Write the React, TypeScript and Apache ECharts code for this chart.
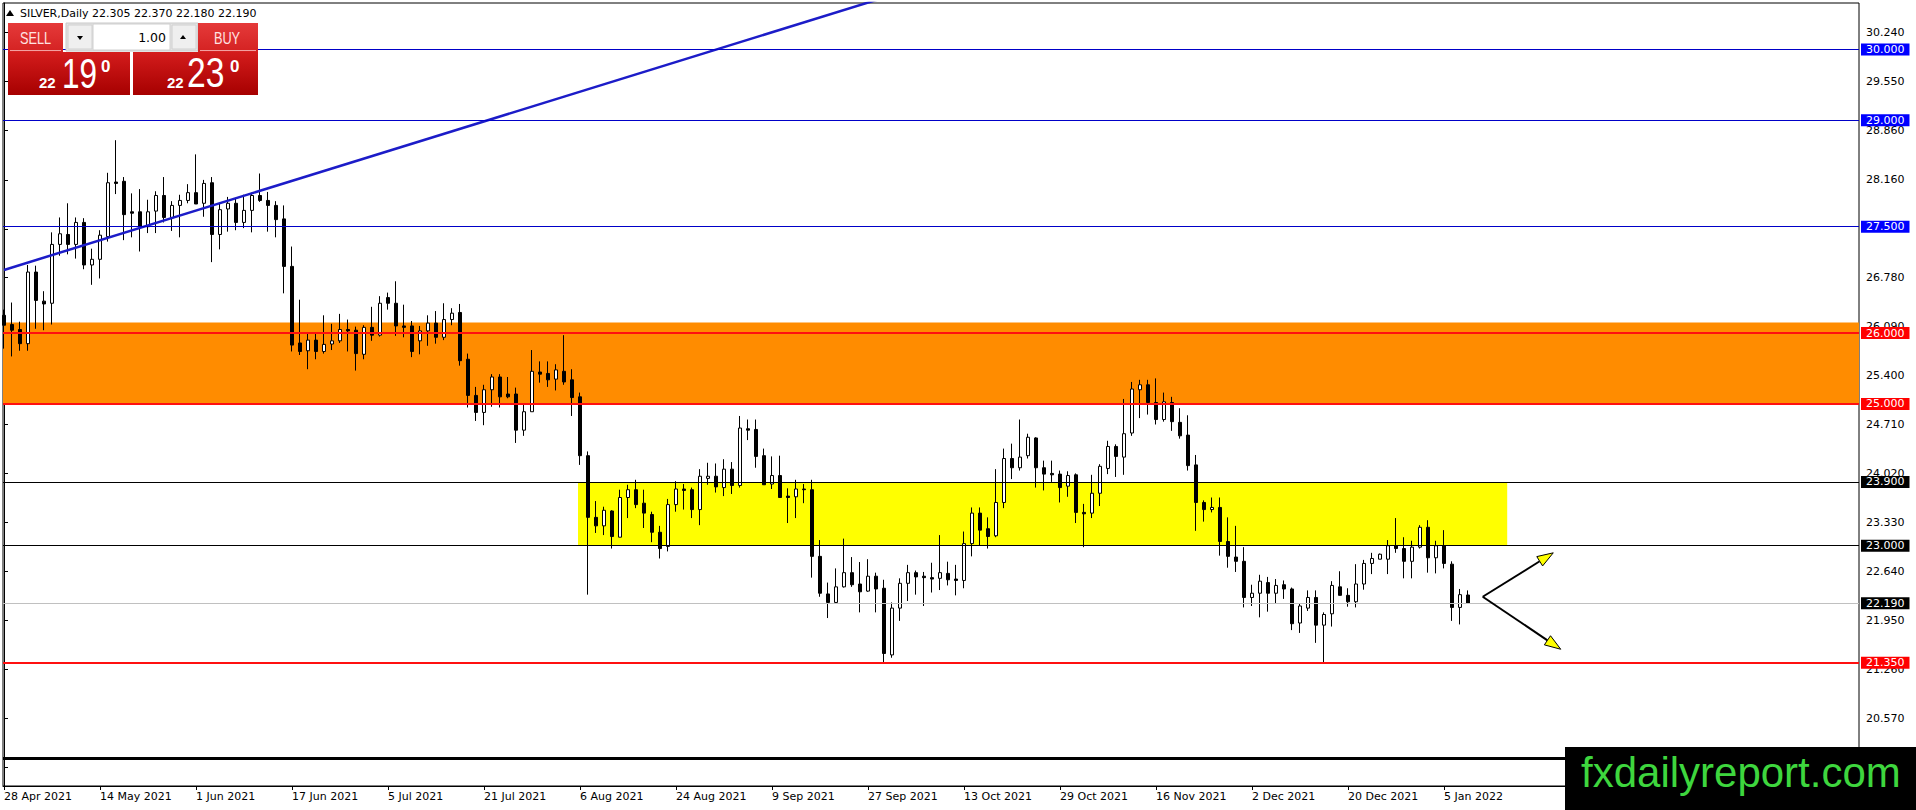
import React, { useEffect, useRef } from 'react';
import * as echarts from 'echarts';

// ---- Daily candles, bar index 0 = 28 Apr 2021 ----
const opens = [
  26.25, 26.12, 26.05, 25.85, 26.86, 26.45, 26.42, 27.25, 27.39, 27.25,
  27.56, 26.96, 27.04, 27.36, 28.13, 28.14, 27.71, 27.71, 27.50, 27.72,
  27.94, 27.63, 27.80, 27.87, 27.98, 27.83, 28.12, 27.39, 27.75, 27.83,
  27.56, 27.73, 27.94, 27.87, 27.80, 27.61, 26.94, 25.86, 25.75, 25.90,
  25.74, 25.845, 25.89, 26.05, 26.04, 25.70, 26.08, 25.97, 26.50, 26.42,
  26.10, 26.10, 25.89, 26.03, 26.14, 25.94, 26.19, 26.29, 25.63, 25.12,
  24.88, 25.20, 25.38, 25.14, 25.14, 24.63, 24.89, 25.45, 25.43, 25.35,
  25.46, 25.34, 25.10, 24.27, 23.40, 23.28, 23.49, 23.12, 23.68, 23.79,
  23.60, 23.44, 23.19, 22.99, 23.58, 23.80, 23.79, 23.51, 23.95, 23.98,
  23.82, 24.08, 23.85, 24.65, 24.64, 24.27, 23.87, 23.99, 23.70, 23.69,
  23.80, 23.79, 22.85, 22.32, 22.20, 22.42, 22.62, 22.46, 22.36, 22.57,
  22.40, 21.46, 22.12, 22.47, 22.62, 22.57, 22.55, 22.54, 22.61, 22.53,
  22.51, 23.03, 23.46, 23.24, 23.14, 23.61, 24.23, 24.10, 24.27, 24.52,
  24.10, 24.02, 24.01, 23.84, 24.00, 23.47, 23.46, 23.74, 24.09, 24.40,
  24.25, 24.59, 25.20, 25.27, 25.02, 24.78, 25.02, 24.74, 24.56, 24.14,
  23.61, 23.51, 23.54, 23.06, 22.84, 22.78, 22.27, 22.33, 22.48, 22.33,
  22.45, 22.39, 21.91, 22.12, 22.27, 21.88, 22.04, 22.42, 22.30, 22.21,
  22.46, 22.75, 22.81, 22.81, 23.00, 22.96, 22.78, 22.98, 23.26, 22.83,
  23.00, 22.74, 22.13, 22.305,
];
const closes = [
  26.11, 26.04, 25.85, 26.86, 26.46, 26.41, 27.25, 27.40, 27.25, 27.56,
  26.96, 27.04, 27.38, 28.12, 28.11, 27.67, 27.69, 27.50, 27.71, 27.94,
  27.63, 27.80, 27.87, 27.98, 27.82, 28.11, 27.39, 27.74, 27.83, 27.56,
  27.73, 27.94, 27.87, 27.80, 27.60, 26.94, 25.83, 25.74, 25.90, 25.74,
  25.84, 25.89, 26.05, 26.03, 25.71, 26.08, 25.97, 26.42, 26.42, 26.10,
  26.08, 25.74, 26.03, 26.14, 25.94, 26.19, 26.28, 25.61, 25.12, 24.88,
  25.20, 25.38, 25.10, 25.10, 24.63, 24.89, 25.46, 25.42, 25.34, 25.48,
  25.31, 25.09, 24.27, 23.40, 23.28, 23.50, 23.13, 23.68, 23.79, 23.58,
  23.46, 23.19, 22.96, 23.58, 23.80, 23.78, 23.51, 23.98, 23.98, 23.83,
  24.08, 23.85, 24.66, 24.63, 24.26, 23.86, 23.99, 23.68, 23.68, 23.80,
  23.79, 22.85, 22.33, 22.20, 22.42, 22.62, 22.45, 22.35, 22.57, 22.39,
  21.48, 22.12, 22.47, 22.62, 22.56, 22.55, 22.53, 22.62, 22.52, 22.51,
  23.03, 23.46, 23.22, 23.13, 23.61, 24.23, 24.10, 24.25, 24.53, 24.10,
  24.01, 24.00, 23.82, 23.99, 23.47, 23.45, 23.74, 24.12, 24.40, 24.26,
  24.58, 25.21, 25.27, 25.02, 24.78, 25.03, 24.75, 24.55, 24.13, 23.61,
  23.51, 23.54, 23.06, 22.85, 22.78, 22.27, 22.33, 22.50, 22.33, 22.44,
  22.39, 21.90, 22.15, 22.27, 21.88, 22.03, 22.44, 22.30, 22.21, 22.46,
  22.75, 22.82, 22.88, 23.00, 22.96, 22.78, 22.98, 23.26, 22.83, 23.00,
  22.75, 22.13, 22.31, 22.19,
];
const lows = [
  25.78, 25.67, 25.75, 25.75, 26.06, 26.04, 26.12, 27.09, 27.11, 27.05,
  26.90, 26.68, 26.77, 27.29, 27.96, 27.31, 27.35, 27.15, 27.41, 27.41,
  27.56, 27.44, 27.35, 27.83, 27.82, 27.64, 27.00, 27.18, 27.43, 27.45,
  27.48, 27.42, 27.85, 27.43, 27.35, 26.56, 25.74, 25.69, 25.49, 25.63,
  25.71, 25.76, 25.86, 25.74, 25.47, 25.63, 25.89, 25.95, 26.33, 25.96,
  25.94, 25.66, 25.70, 25.82, 25.85, 25.90, 26.11, 25.54, 24.95, 24.76,
  24.70, 24.96, 24.95, 25.08, 24.45, 24.55, 24.89, 25.30, 25.24, 25.19,
  25.27, 24.83, 24.14, 22.31, 23.18, 23.15, 22.96, 23.12, 23.39, 23.53,
  23.25, 23.05, 22.82, 22.92, 23.48, 23.51, 23.39, 23.29, 23.86, 23.75,
  23.70, 23.73, 23.82, 24.49, 24.10, 23.86, 23.80, 23.68, 23.32, 23.39,
  23.60, 22.55, 22.28, 21.98, 22.19, 22.41, 22.42, 22.06, 22.35, 22.06,
  21.36, 21.42, 21.94, 22.22, 22.31, 22.15, 22.34, 22.375, 22.44, 22.30,
  22.40, 22.85, 23.01, 22.96, 23.12, 23.53, 23.94, 24.06, 24.23, 23.82,
  23.78, 23.90, 23.61, 23.69, 23.32, 22.98, 23.39, 23.56, 24.01, 23.97,
  24.00, 24.55, 24.80, 24.85, 24.71, 24.75, 24.62, 24.51, 24.06, 23.21,
  23.34, 23.47, 22.86, 22.69, 22.63, 22.13, 22.15, 21.99, 22.07, 22.18,
  22.25, 21.81, 21.77, 22.08, 21.63, 21.35, 21.86, 22.30, 22.14, 22.13,
  22.38, 22.60, 22.81, 22.60, 22.90, 22.54, 22.54, 22.96, 22.62, 22.61,
  22.68, 21.94, 21.89, 22.18,
];
const highs = [
  26.33, 26.43, 26.16, 26.96, 26.95, 26.59, 27.42, 27.63, 27.83, 27.63,
  27.62, 27.19, 27.45, 28.26, 28.72, 28.20, 27.97, 28.03, 27.88, 28.00,
  28.20, 27.86, 27.95, 28.10, 28.52, 28.16, 28.20, 27.82, 27.92, 27.90,
  27.95, 27.98, 28.25, 27.99, 27.86, 27.80, 27.22, 26.47, 26.00, 25.99,
  26.25, 26.13, 26.27, 26.19, 26.09, 26.11, 26.37, 26.52, 26.57, 26.73,
  26.40, 26.17, 26.10, 26.25, 26.31, 26.42, 26.35, 26.41, 25.71, 25.24,
  25.27, 25.42, 25.42, 25.38, 25.23, 24.99, 25.76, 25.60, 25.60, 25.56,
  25.97, 25.49, 25.16, 24.33, 23.63, 23.55, 23.50, 23.79, 23.86, 23.93,
  23.79, 23.48, 23.28, 23.66, 23.91, 23.87, 23.82, 24.08, 24.17, 24.16,
  24.22, 24.18, 24.83, 24.78, 24.78, 24.37, 24.26, 24.27, 23.81, 23.93,
  23.87, 23.93, 23.08, 22.48, 22.68, 23.10, 22.84, 22.77, 22.81, 22.62,
  22.52, 22.20, 22.54, 22.73, 22.65, 22.63, 22.76, 23.15, 22.775, 22.73,
  23.20, 23.54, 23.54, 23.40, 24.08, 24.37, 24.44, 24.78, 24.58, 24.53,
  24.20, 24.20, 24.06, 24.05, 24.02, 23.59, 24.00, 24.15, 24.48, 24.43,
  25.07, 25.31, 25.34, 25.34, 25.36, 25.16, 25.10, 24.94, 24.84, 24.28,
  23.64, 23.68, 23.68, 23.40, 23.28, 22.98, 22.45, 22.59, 22.56, 22.53,
  22.51, 22.41, 22.18, 22.37, 22.37, 22.06, 22.50, 22.64, 22.40, 22.74,
  22.80, 22.90, 22.89, 23.08, 23.39, 23.12, 23.07, 23.29, 23.36, 23.07,
  23.22, 22.78, 22.39, 22.37,
];

// ---- Axis ticks ----
const xTickBars = [0, 12, 24, 36, 48, 60, 72, 84, 96, 108, 120, 132, 144, 156, 168, 180];
const xTickLabels = [
  '28 Apr 2021', '14 May 2021', '1 Jun 2021', '17 Jun 2021', '5 Jul 2021', '21 Jul 2021',
  '6 Aug 2021', '24 Aug 2021', '9 Sep 2021', '27 Sep 2021', '13 Oct 2021', '29 Oct 2021',
  '16 Nov 2021', '2 Dec 2021', '20 Dec 2021', '5 Jan 2022',
];
const yTickValues = [
  30.24, 29.55, 28.86, 28.16, 27.47, 26.78, 26.09, 25.4, 24.71, 24.02,
  23.33, 22.64, 21.95, 21.26, 20.57, 19.88,
];

// ---- Drawn levels / objects (price space) ----
const blueLevels = [30.0, 29.0, 27.5];
const redLevels = [26.0, 25.0, 21.35];
const blackLevels = [23.9, 23.0];
const currentPrice = 22.19;
const baseLevel = 20.0;
const orangeZone = [25.0, 26.15];
const yellowZone = [23.0, 23.9];
const yellowZoneBars = [71.75, 187.9];
const trendline = [[0, 26.89], [120, 31.08]];
const arrowApex = [184.84, 22.28];
const arrowUpTip = [193.66, 22.9];
const arrowDownTip = [194.59, 21.54];
const bidPrice = 22.19;
const askPrice = 22.23;

const X_MIN = -0.125;
const X_MAX = 231.875;
const Y_MIN = 19.611;
const Y_MAX = 30.655;

export default function App() {
  const ref = useRef<HTMLDivElement>(null);

  useEffect(() => {
    const chart = echarts.init(ref.current as HTMLDivElement, null, { renderer: 'svg' });
    const candles = opens.map((o, i) => [i, o, closes[i], lows[i], highs[i]]);
    const last = candles.length - 1;

    const tag = (bg: string) => ({
      show: true,
      position: 'end',
      distance: 2,
      color: '#ffffff',
      backgroundColor: bg,
      padding: [1, 5, 0, 5],
      fontSize: 11,
      lineHeight: 11,
      fontFamily: 'DejaVu Sans',
      formatter: (p: any) => Number(p.value).toFixed(3),
    });
    const lvl = (v: number, color: string, width: number, bg: string | null) => ({
      yAxis: v,
      lineStyle: { color, width, type: 'solid' },
      label: bg ? tag(bg) : { show: false },
    });

    const lineData = [
      ...blueLevels.map((v) => lvl(v, '#0000c8', 1, '#0000ff')),
      ...redLevels.map((v) => lvl(v, '#ff1010', 2, '#ff0000')),
      ...blackLevels.map((v) => lvl(v, '#000000', 1.2, '#000000')),
      lvl(currentPrice, '#c0c0c0', 1, '#000000'),
      lvl(baseLevel, '#000000', 3, null),
    ];

    chart.setOption({
      animation: false,
      backgroundColor: '#ffffff',
      textStyle: { fontFamily: 'DejaVu Sans' },
      grid: {
        left: 3, right: 57, top: 3, bottom: 24,
        show: true, borderColor: '#000', borderWidth: 1, backgroundColor: '#ffffff',
      },
      xAxis: {
        type: 'value', min: X_MIN, max: X_MAX,
        splitLine: { show: false },
        axisLine: { show: true, onZero: false, lineStyle: { color: '#000', width: 1 } },
        axisTick: { show: true, length: 4, customValues: xTickBars, lineStyle: { color: '#000' } },
        axisLabel: {
          customValues: xTickBars,
          formatter: (v: number) => {
            const k = xTickBars.indexOf(Math.round(v));
            return k >= 0 ? xTickLabels[k] : '';
          },
          align: 'left', margin: 5, color: '#000', fontSize: 11, fontFamily: 'DejaVu Sans',
        },
      },
      yAxis: {
        type: 'value', position: 'right', min: Y_MIN, max: Y_MAX, scale: true,
        splitLine: { show: false },
        axisLine: { show: true, lineStyle: { color: '#000', width: 1 } },
        axisTick: { show: true, length: 4, customValues: yTickValues, lineStyle: { color: '#000' } },
        axisLabel: {
          customValues: yTickValues,
          formatter: (v: number) => v.toFixed(3),
          margin: 7, color: '#000', fontSize: 11, fontFamily: 'DejaVu Sans',
        },
      },
      series: [
        {
          type: 'candlestick',
          data: candles,
          barWidth: 4,
          itemStyle: {
            color: '#ffffff', color0: '#000000',
            borderColor: '#000000', borderColor0: '#000000', borderColorDoji: '#000000',
            borderWidth: 1,
          },
          markArea: {
            silent: true,
            data: [
              [
                { xAxis: X_MIN, yAxis: orangeZone[1], itemStyle: { color: '#ff8c00', opacity: 1 } },
                { xAxis: X_MAX, yAxis: orangeZone[0] },
              ],
              [
                { xAxis: yellowZoneBars[0], yAxis: yellowZone[1], itemStyle: { color: '#ffff00', opacity: 1 } },
                { xAxis: yellowZoneBars[1], yAxis: yellowZone[0] },
              ],
            ],
          },
          markLine: {
            silent: true,
            symbol: ['none', 'none'],
            animation: false,
            data: lineData,
          },
        },
        {
          type: 'line',
          data: trendline,
          symbol: 'none',
          clip: true,
          z: 4,
          lineStyle: { color: '#1c1cc8', width: 2.5 },
        },
      ],
    });

    const px = (p: number[]) => chart.convertToPixel({ gridIndex: 0 }, p) as number[];
    const arrow = (from: number[], to: number[]) => {
      const a = px(from);
      const t = px(to);
      const dx = t[0] - a[0];
      const dy = t[1] - a[1];
      const len = Math.hypot(dx, dy);
      const ux = dx / len;
      const uy = dy / len;
      const L = 16;
      const W = 5.5;
      const bx = t[0] - ux * L;
      const by = t[1] - uy * L;
      return [
        { type: 'line', z: 50, shape: { x1: a[0], y1: a[1], x2: bx, y2: by }, style: { stroke: '#000', lineWidth: 2 } },
        {
          type: 'polygon', z: 51,
          shape: { points: [[t[0], t[1]], [bx - uy * W, by + ux * W], [bx + uy * W, by - ux * W]] },
          style: { fill: '#ffff00', stroke: '#000', lineWidth: 1 },
        },
      ];
    };

    const bidStr = bidPrice.toFixed(3);
    const askStr = askPrice.toFixed(3);
    const redGrad = (c1: string, c2: string) =>
      new echarts.graphic.LinearGradient(0, 0, 0, 1, [
        { offset: 0, color: c1 },
        { offset: 1, color: c2 },
      ]);
    const fontSans = '"Liberation Sans", Arial, sans-serif';
    const txt = (
      text: string, x: number, y: number, size: number, fill: string,
      align: string, scaleX = 1, weight = 'normal',
    ) => ({
      type: 'text', x, y, scaleX, z: 60,
      style: {
        text, x: 0, y: 0, fill, align, verticalAlign: 'middle',
        font: `${weight} ${size}px ${fontSans}`,
      },
    });

    const title = `SILVER,Daily ${opens[last].toFixed(3)} ${highs[last].toFixed(3)} ${lows[last].toFixed(3)} ${closes[last].toFixed(3)}`;

    const panel: any[] = [
      { type: 'polygon', z: 60, shape: { points: [[6, 16], [14, 16], [10, 10]] }, style: { fill: '#000' } },
      {
        type: 'text', x: 20, y: 13, z: 60,
        style: { text: title, x: 0, y: 0, fill: '#000', align: 'left', verticalAlign: 'middle', font: '11px "DejaVu Sans"' },
      },
      // SELL
      { type: 'rect', z: 55, shape: { x: 8, y: 23, width: 55, height: 29 }, style: { fill: redGrad('#e53a3a', '#d42222') } },
      { type: 'line', z: 56, shape: { x1: 10, y1: 50.5, x2: 61, y2: 50.5 }, style: { stroke: '#f3a0a0', lineWidth: 1 } },
      txt('SELL', 35.5, 38, 17, '#ffe2e2', 'center', 0.75),
      // spinner
      { type: 'rect', z: 55, shape: { x: 66, y: 23, width: 132, height: 28 }, style: { fill: '#e4e4e4', stroke: '#c8c8c8', lineWidth: 1 } },
      { type: 'rect', z: 56, shape: { x: 68, y: 25, width: 24, height: 24 }, style: { fill: '#efefef', stroke: '#d0d0d0', lineWidth: 1 } },
      { type: 'polygon', z: 57, shape: { points: [[77, 36], [83, 36], [80, 40]] }, style: { fill: '#000' } },
      { type: 'rect', z: 56, shape: { x: 93, y: 24, width: 77, height: 26 }, style: { fill: '#ffffff', stroke: '#d0d0d0', lineWidth: 1 } },
      {
        type: 'text', x: 166, y: 37, z: 60,
        style: { text: '1.00', x: 0, y: 0, fill: '#000', align: 'right', verticalAlign: 'middle', font: '12.5px "DejaVu Sans"' },
      },
      { type: 'rect', z: 56, shape: { x: 172, y: 25, width: 24, height: 24 }, style: { fill: '#efefef', stroke: '#d0d0d0', lineWidth: 1 } },
      { type: 'polygon', z: 57, shape: { points: [[180, 39], [186, 39], [183, 35]] }, style: { fill: '#000' } },
      // BUY
      { type: 'rect', z: 55, shape: { x: 198, y: 23, width: 60, height: 29 }, style: { fill: redGrad('#e53a3a', '#d42222') } },
      { type: 'line', z: 56, shape: { x1: 200, y1: 50.5, x2: 256, y2: 50.5 }, style: { stroke: '#f3a0a0', lineWidth: 1 } },
      txt('BUY', 227, 38, 17, '#ffe2e2', 'center', 0.75),
      // price boxes
      { type: 'rect', z: 55, shape: { x: 8, y: 52, width: 122, height: 43 }, style: { fill: redGrad('#d41c1c', '#a60000') } },
      { type: 'rect', z: 55, shape: { x: 133, y: 52, width: 125, height: 43 }, style: { fill: redGrad('#d41c1c', '#a60000') } },
      txt(bidStr.slice(0, 2), 39, 82.5, 15, '#ffffff', 'left', 1, 'bold'),
      txt(bidStr.slice(3, 5), 62, 73, 42, '#ffffff', 'left', 0.75),
      txt(bidStr.slice(5, 6), 101, 66, 17, '#ffffff', 'left', 1, 'bold'),
      txt(askStr.slice(0, 2), 167, 82.5, 15, '#ffffff', 'left', 1, 'bold'),
      txt(askStr.slice(3, 5), 187, 73, 42, '#ffffff', 'left', 0.8),
      txt(askStr.slice(5, 6), 230, 66, 17, '#ffffff', 'left', 1, 'bold'),
      // watermark
      { type: 'rect', z: 100, shape: { x: 1565, y: 747, width: 351, height: 63 }, style: { fill: '#000000' } },
      {
        type: 'text', x: 1581, y: 772, z: 101,
        style: { text: 'fxdailyreport.com', x: 0, y: 0, fill: '#3ed63e', align: 'left', verticalAlign: 'middle', font: `42px ${fontSans}` },
      },
    ];

    chart.setOption({
      graphic: { elements: [...arrow(arrowApex, arrowUpTip), ...arrow(arrowApex, arrowDownTip), ...panel] },
    });

    return () => {
      chart.dispose();
    };
  }, []);

  return (
    <div
      ref={ref}
      style={{ position: 'fixed', left: 0, top: 0, width: '1916px', height: '810px', background: '#fff' }}
    />
  );
}
